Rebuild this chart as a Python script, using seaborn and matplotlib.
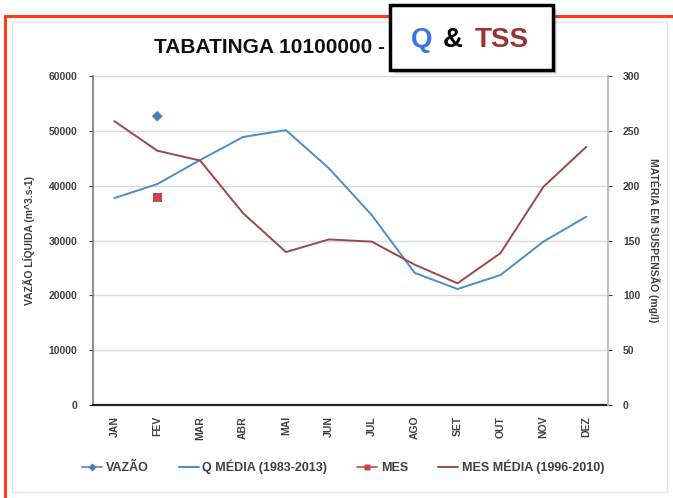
import pandas as pd
import seaborn as sns
import matplotlib.pyplot as plt
from matplotlib.patches import Rectangle
from matplotlib.lines import Line2D

meses = ['JAN', 'FEV', 'MAR', 'ABR', 'MAI', 'JUN', 'JUL', 'AGO', 'SET', 'OUT', 'NOV', 'DEZ']
q_media = [37750, 40300, 44700, 48900, 50150, 43200, 34650, 24100, 21150, 23700, 29800, 34350]
mes_media = [259, 232, 223, 175, 139.5, 151, 149, 128, 111, 138.5, 199, 235.5]
vazao_mes = ['FEV']
vazao = [52700]
mes_pt_mes = ['FEV']
mes_pt = [189]

sns.set_theme(style='white')
plt.rcParams['font.family'] = ['Liberation Sans Narrow', 'Liberation Sans', 'DejaVu Sans']

df = pd.DataFrame({'mes': meses, 'q': q_media, 'tss': mes_media})
df['x'] = range(len(meses))
pv = pd.DataFrame({'x': [meses.index(m) for m in vazao_mes], 'v': vazao})
pm = pd.DataFrame({'x': [meses.index(m) for m in mes_pt_mes], 'v': mes_pt})

blue = '#4a8ec9'
red = '#9c4848'
tick_c = '#404040'

fig = plt.figure(figsize=(6.73, 4.98), dpi=100)
ax = fig.add_axes([0.138, 0.187, 0.765, 0.66])
ax2 = ax.twinx()

sns.lineplot(data=df, x='x', y='q', ax=ax, color=blue, lw=1.4)
sns.scatterplot(data=pv, x='x', y='v', ax=ax, marker='D', s=30, color='#4f79b8', edgecolor='none')
sns.lineplot(data=df, x='x', y='tss', ax=ax2, color=red, lw=1.4)
sns.scatterplot(data=pm, x='x', y='v', ax=ax2, marker='s', s=40, color='#c8474f', edgecolor='none')

ax.set_xlim(-0.5, 11.5)
ax.set_ylim(0, 60000)
ax2.set_ylim(0, 300)
ax.set_yticks(range(0, 60001, 10000))
ax2.set_yticks(range(0, 301, 50))
ax.set_xticks(range(12))
ax.set_xticklabels(meses, rotation=90, fontsize=7.5, fontweight='bold', color=tick_c)
ax.tick_params(axis='y', labelsize=7.5, colors=tick_c, length=3, width=0.8, direction='out', left=True, pad=8)
ax2.tick_params(axis='y', labelsize=7.5, colors=tick_c, length=3, width=0.8, right=True, pad=8)
ax.tick_params(axis='x', length=0, pad=8)
for t in ax.get_yticklabels() + ax2.get_yticklabels():
    t.set_fontweight('bold')
ax.set_xlabel('')
ax.set_ylabel('VAZÃO LÍQUIDA (m^3.s-1)', fontsize=7.5, fontweight='bold', color=tick_c, labelpad=10)
ax2.set_ylabel('MATÉRIA EM SUSPENSÃO (mg/l)', fontsize=7.5, fontweight='bold', color=tick_c,
               rotation=-90, labelpad=14)

ax.grid(axis='y', color='#d9d9d9', lw=1)
ax.set_axisbelow(True)
for a in (ax, ax2):
    a.spines['top'].set_visible(False)
ax.spines['left'].set_color('#7f7f7f')
ax.spines['bottom'].set_color('#222222')
ax.spines['bottom'].set_linewidth(1.6)
ax2.spines['right'].set_color('#cfcfcf')
ax2.spines['left'].set_visible(False)
ax2.spines['bottom'].set_visible(False)

handles = [
    Line2D([0], [0], color=blue, lw=1.2, marker='D', markersize=4, markerfacecolor='#4f79b8', markeredgecolor='none'),
    Line2D([0], [0], color=blue, lw=1.4),
    Line2D([0], [0], color='#c8474f', lw=1.2, marker='s', markersize=5, markeredgecolor='none'),
    Line2D([0], [0], color=red, lw=1.4),
]
labels = ['VAZÃO', 'Q MÉDIA (1983-2013)', 'MES', 'MES MÉDIA (1996-2010)']
leg = fig.legend(handles, labels, loc='center', bbox_to_anchor=(0.51, 0.062), ncol=4, frameon=False,
                 fontsize=9, handlelength=1.6, handletextpad=0.3, columnspacing=2.4)
for t in leg.get_texts():
    t.set_color(tick_c)
    t.set_fontweight('bold')

fig.text(0.40, 0.905, 'TABATINGA 10100000 -', ha='center', va='center', fontsize=15,
         fontweight='bold', color='#111111')

# faint chart-area border and red frame of the slide
fig.patches.append(Rectangle((12 / 673, 6 / 498), 655 / 673, 470 / 498, transform=fig.transFigure,
                             fill=False, edgecolor='#e4e4e4', lw=1, zorder=0))
fig.patches.append(Rectangle((5 / 673, -0.1), 1.1, 1 - 16 / 498 + 0.1, transform=fig.transFigure,
                             fill=False, edgecolor='#ff3a1a', lw=2.2, zorder=0))

# overlay box with shadow
bx, by, bw, bh = 390 / 673, 1 - 70 / 498, 163 / 673, 65 / 498
for i, al in enumerate([0.10, 0.08, 0.06, 0.04]):
    d = (i + 2) / 673
    fig.patches.append(Rectangle((bx + d, by - d * 673 / 498), bw, bh, transform=fig.transFigure,
                                 facecolor='black', edgecolor='none', alpha=al, zorder=5))
fig.patches.append(Rectangle((bx, by), bw, bh, transform=fig.transFigure, facecolor='white',
                             edgecolor='black', lw=2.5, zorder=6))
ty = 1 - 40 / 498
fig.text(0.627, ty, 'Q', color='#3b73e8', fontsize=20, fontweight='bold', ha='center', va='center', zorder=7)
fig.text(0.673, ty, '&', color='black', fontsize=20, fontweight='bold', ha='center', va='center', zorder=7)
fig.text(0.745, ty, 'TSS', color='#9a3333', fontsize=20, fontweight='bold', ha='center', va='center', zorder=7)

fig.savefig('out.png', dpi=100, facecolor='white')
